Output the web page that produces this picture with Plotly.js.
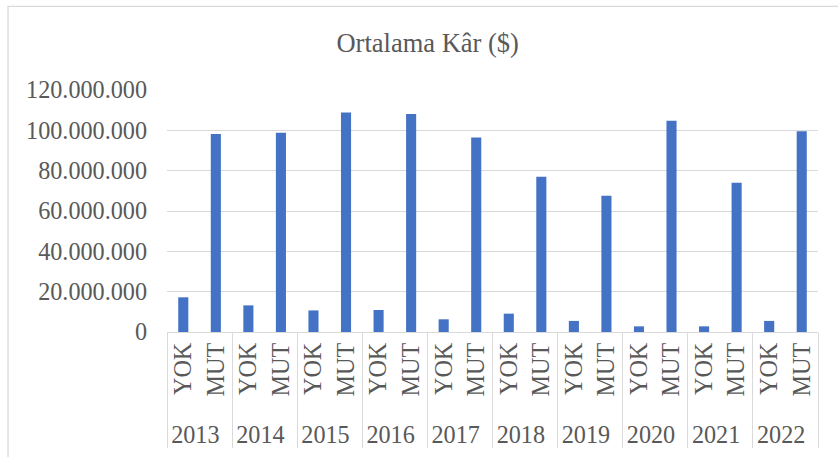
<!DOCTYPE html>
<html>
<head>
<meta charset="utf-8">
<script src="https://cdn.plot.ly/plotly-3.0.1.min.js"></script>
<style>
  html, body { margin: 0; padding: 0; background: #ffffff; }
  #chart { width: 838px; height: 457px; }
</style>
</head>
<body>
<div id="chart"></div>
<script>
// Data (values in $)
const years = ['2013', '2014', '2015', '2016', '2017', '2018', '2019', '2020', '2021', '2022'];
const groups = ['YOK', 'MUT'];
const yokValues = [17200000, 13200000, 10700000, 10900000, 6300000, 9100000, 5500000, 2800000, 2800000, 5500000];
const mutValues = [98200000, 98800000, 108800000, 108100000, 96500000, 77000000, 67600000, 104800000, 74000000, 99500000];
const titleText = 'Ortalama Kâr ($)';

const xOuter = [], xInner = [], yVals = [];
years.forEach((yr, i) => {
  xOuter.push(yr); xInner.push(groups[0]); yVals.push(yokValues[i]);
  xOuter.push(yr); xInner.push(groups[1]); yVals.push(mutValues[i]);
});

const textColor = '#595959';
const gridColor = '#d9d9d9';
const fontFamily = 'Liberation Serif, DejaVu Serif, serif';

const trace = {
  type: 'bar',
  x: [xOuter, xInner],
  y: yVals,
  marker: { color: '#4472C4' },
  hoverinfo: 'x+y'
};

const layout = {
  width: 838,
  height: 457,
  margin: { l: 167, r: 20, t: 90, b: 125, pad: 0 },
  paper_bgcolor: '#ffffff',
  plot_bgcolor: '#ffffff',
  separators: ',.',
  bargap: 0.69,
  showlegend: false,
  font: { family: fontFamily, color: textColor, size: 24.2 },
  title: {
    text: titleText,
    font: { family: fontFamily, color: textColor, size: 26.5 },
    xref: 'container', x: 0.5104, xanchor: 'center',
    yref: 'container', y: 0.906, yanchor: 'middle'
  },
  xaxis: {
    type: 'multicategory',
    showline: true,
    linecolor: gridColor,
    linewidth: 1,
    showgrid: false,
    ticks: '',
    tickangle: -90,
    showdividers: true,
    dividercolor: gridColor,
    dividerwidth: 1,
    tickfont: { family: fontFamily, color: textColor, size: 24.2 }
  },
  yaxis: {
    range: [0, 120000000],
    dtick: 20000000,
    tick0: 0,
    tickformat: ',d',
    showgrid: true,
    gridcolor: gridColor,
    gridwidth: 1,
    zeroline: false,
    showline: false,
    ticks: '',
    ticklabelstandoff: 19,
    tickfont: { family: fontFamily, color: textColor, size: 24.2 }
  },
  shapes: [
    {
      type: 'rect', xref: 'paper', yref: 'paper',
      x0: -0.2442, x1: 1.2, y0: -0.7, y1: 1.3459,
      line: { color: gridColor, width: 1.3 },
      fillcolor: 'rgba(0,0,0,0)',
      layer: 'below'
    }
  ]
};

Plotly.newPlot('chart', [trace], layout, { displayModeBar: false, staticPlot: true });
</script>
</body>
</html>
